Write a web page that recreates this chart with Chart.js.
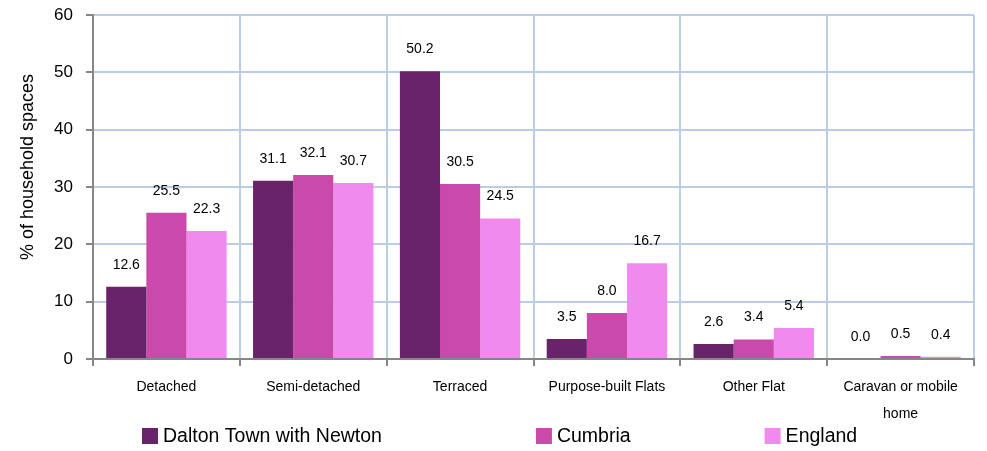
<!DOCTYPE html>
<html>
<head>
<meta charset="utf-8">
<script src="https://cdn.jsdelivr.net/npm/chart.js@4/dist/chart.umd.min.js"></script>
<style>
  html, body { margin: 0; padding: 0; background: #fff; }
  #wrap { width: 987px; height: 451px; }
</style>
</head>
<body>
<div id="wrap"><canvas id="chart"></canvas></div>
<script>
var categories = ['Detached', 'Semi-detached', 'Terraced', 'Purpose-built Flats', 'Other Flat', ['Caravan or mobile', 'home']];
var daltonValues = [12.6, 31.1, 50.2, 3.5, 2.6, 0.0];
var cumbriaValues = [25.5, 32.1, 30.5, 8.0, 3.4, 0.5];
var englandValues = [22.3, 30.7, 24.5, 16.7, 5.4, 0.4];
var seriesNames = ['Dalton Town with Newton', 'Cumbria', 'England'];
var yTicks = [0, 10, 20, 30, 40, 50, 60];
var yTitle = '% of household spaces';

var fontFamily = 'Arial, "Liberation Sans", sans-serif';

// value labels drawn above each bar
var valueLabels = {
  id: 'valueLabels',
  afterDatasetsDraw: function (chart) {
    var ctx = chart.ctx;
    ctx.save();
    ctx.font = '14px ' + fontFamily;
    ctx.fillStyle = '#000';
    ctx.textAlign = 'center';
    ctx.textBaseline = 'middle';
    chart.data.datasets.forEach(function (ds, i) {
      chart.getDatasetMeta(i).data.forEach(function (bar, j) {
        ctx.fillText(ds.data[j].toFixed(1), bar.x, bar.y - 22);
      });
    });
    ctx.restore();
  }
};

// y title, sitting a little above the middle like in the original
var sideTitle = {
  id: 'sideTitle',
  afterDraw: function (chart) {
    var ctx = chart.ctx;
    var area = chart.chartArea;
    ctx.save();
    ctx.font = '18px ' + fontFamily;
    ctx.fillStyle = '#000';
    ctx.textAlign = 'center';
    ctx.textBaseline = 'middle';
    ctx.translate(28, (area.top + area.bottom) / 2 - 20);
    ctx.rotate(-Math.PI / 2);
    ctx.fillText(yTitle, 0, 0);
    ctx.restore();
  }
};

// legend in one wide row under the axis labels
var wideLegend = {
  id: 'wideLegend',
  afterDraw: function (chart) {
    var ctx = chart.ctx;
    var box = 16, gapText = 5, gaps = [154, 134];
    ctx.save();
    ctx.font = '19.5px ' + fontFamily;
    ctx.textBaseline = 'middle';
    ctx.textAlign = 'left';
    var x = 142;
    var y = 436;
    chart.data.datasets.forEach(function (ds, i) {
      ctx.fillStyle = ds.backgroundColor;
      ctx.fillRect(x, y - box / 2, box, box);
      ctx.fillStyle = '#000';
      ctx.fillText(ds.label, x + box + gapText, y + 1);
      x += box + gapText + ctx.measureText(ds.label).width + (gaps[i] || 0);
    });
    ctx.restore();
  }
};

var ctx = document.getElementById('chart').getContext('2d');
new Chart(ctx, {
  type: 'bar',
  data: {
    labels: categories,
    datasets: [
      { label: seriesNames[0], data: daltonValues, backgroundColor: 'rgb(104, 35, 107)' },
      { label: seriesNames[1], data: cumbriaValues, backgroundColor: 'rgb(201, 74, 170)' },
      { label: seriesNames[2], data: englandValues, backgroundColor: 'rgb(240, 138, 238)' }
    ]
  },
  options: {
    responsive: true,
    maintainAspectRatio: false,
    animation: false,
    layout: { padding: { top: 0, right: 13, left: 0, bottom: 15 } },
    datasets: { bar: { categoryPercentage: 0.82, barPercentage: 1.0 } },
    plugins: {
      tooltip: { enabled: false },
      legend: { display: false }
    },
    scales: {
      x: {
        grid: { color: '#b9cde5', lineWidth: 2, offset: true, tickColor: '#868686', tickLength: 7 },
        border: { color: '#868686', width: 2 },
        ticks: {
          font: { size: 14, family: fontFamily, lineHeight: 1.93 },
          color: '#000',
          maxRotation: 0,
          padding: 8
        }
      },
      y: {
        min: 0,
        max: 60,
        afterBuildTicks: function (scale) {
          scale.ticks = yTicks.map(function (v) { return { value: v }; });
        },
        afterFit: function (scale) {
          scale.width = 93;
          scale.paddingTop = 15;
          scale.paddingBottom = 10;
        },
        grid: { color: '#b9cde5', lineWidth: 2, tickColor: '#868686', tickLength: 7 },
        border: { color: '#868686', width: 2 },
        ticks: {
          font: { size: 17, family: fontFamily },
          color: '#000',
          padding: 13,
          autoSkip: false
        }
      }
    }
  },
  plugins: [valueLabels, sideTitle, wideLegend]
});
</script>
</body>
</html>
